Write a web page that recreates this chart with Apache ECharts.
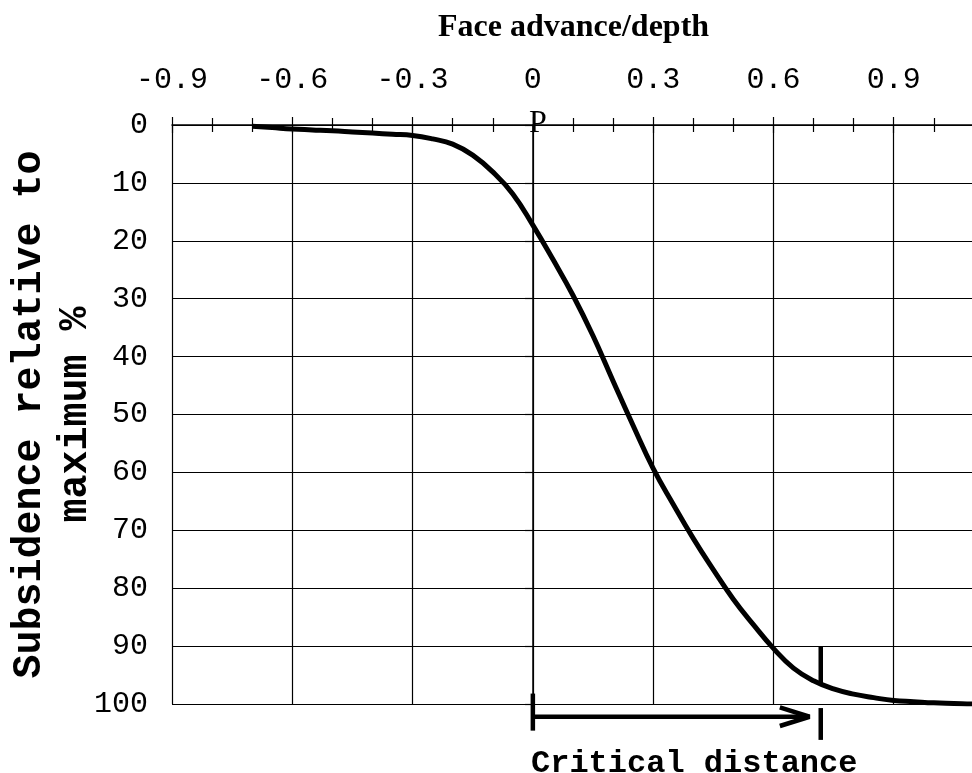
<!DOCTYPE html>
<html>
<head>
<meta charset="utf-8">
<script src="https://cdn.jsdelivr.net/npm/echarts@6/dist/echarts.min.js"></script>
<style>
html,body{margin:0;padding:0;background:#fff;}
#chart{width:972px;height:773px;}
</style>
</head>
<body>
<div id="chart"></div>
<script>
// Data
const faceAdvance = [-0.7,-0.65,-0.6,-0.55,-0.5,-0.45,-0.4,-0.35,-0.3,-0.25,-0.2,-0.15,-0.1,-0.05,0,0.05,0.1,0.15,0.2,0.25,0.3,0.35,0.4,0.45,0.5,0.55,0.6,0.65,0.7,0.75,0.8,0.85,0.9,0.95,1.0,1.05,1.1,1.15,1.2];
const subsidence  = [0.2,0.45,0.7,0.85,1.0,1.2,1.4,1.6,1.8,2.4,3.3,5.2,8.1,11.9,17.3,23.2,29.4,36.4,44.2,51.9,59.3,65.5,71.4,76.8,81.9,86.3,90.4,93.8,96.0,97.4,98.3,98.9,99.4,99.6,99.8,99.9,100,100,100];

// Critical distance annotation (data units)
const criticalDistance = 0.718;
const arrowShaft = [[0, 102.2], [0.69, 102.2]];
const arrowHead  = [[0.616, 100.6], [0.69, 102.2], [0.616, 103.8]];
const startTick  = [[0, 98.2], [0, 104.6]];
const endTickLow = [[criticalDistance, 100.7], [criticalDistance, 106.2]];
const endTickUp  = [[criticalDistance, 90], [criticalDistance, 96.4]];

const xAxisName = 'Face advance/depth';
const yAxisName = 'Subsidence relative to\nmaximum %';
const annotationText = 'Critical distance';
const pointLabel = 'P';

const chart = echarts.init(document.getElementById('chart'), null, {renderer: 'canvas'});
const mono = 'Liberation Mono';
const black = '#000';

function annLine(data, width) {
  return {
    type: 'line', data: data, symbol: 'none', clip: false, silent: true,
    lineStyle: {color: black, width: width}, z: 5, animation: false
  };
}

chart.setOption({
  backgroundColor: '#fff',
  animation: false,
  title: {
    text: xAxisName, left: 433, top: 7,
    textStyle: {fontFamily: 'Liberation Serif', fontWeight: 'bold', fontSize: 32, color: black}
  },
  grid: {left: 172, top: 125, bottom: 69, right: -42, containLabel: false, outerBoundsMode: 'none'},
  xAxis: [{
    type: 'value', position: 'top', min: -0.9, max: 1.2, interval: 0.3,
    axisLine: {show: true, lineStyle: {color: black, width: 1.5}},
    axisTick: {show: true, length: 8, lineStyle: {color: black, width: 1.2}},
    minorTick: {show: true, splitNumber: 3, length: 7, lineStyle: {color: black, width: 1.2}},
    axisLabel: {fontFamily: mono, fontSize: 30, color: black, margin: 30, showMaxLabel: true},
    splitLine: {show: true, lineStyle: {color: black, width: 1.2}}
  }, {
    type: 'value', position: 'top', min: -0.9, max: 1.2, interval: 0.3,
    axisLine: {show: false},
    axisTick: {show: true, inside: true, length: 8, lineStyle: {color: black, width: 1.2}},
    minorTick: {show: true, splitNumber: 3, length: 7, lineStyle: {color: black, width: 1.2}},
    axisLabel: {show: false},
    splitLine: {show: false}
  }],
  yAxis: {
    type: 'value', inverse: true, min: 0, max: 100, interval: 10,
    name: yAxisName, nameLocation: 'middle', nameRotate: 90, nameGap: 73, nameMoveOverlap: false,
    nameTextStyle: {fontFamily: mono, fontWeight: 'bold', fontSize: 40, lineHeight: 46, color: black},
    axisLine: {show: true, lineStyle: {color: black, width: 1.5}},
    axisTick: {show: true, length: 8, lineStyle: {color: black, width: 1.2}},
    axisLabel: {fontFamily: mono, fontSize: 30, color: black, margin: 24},
    splitLine: {show: true, lineStyle: {color: black, width: 1.2}}
  },
  series: [
    {
      type: 'line', data: faceAdvance.map((x, i) => [x, subsidence[i]]),
      symbol: 'none', smooth: 0.45,
      lineStyle: {color: black, width: 5}, z: 4
    },
    annLine(arrowShaft, 4.5),
    annLine(arrowHead, 4.5),
    annLine(startTick, 4.5),
    annLine(endTickLow, 4.5),
    annLine(endTickUp, 4.5)
  ],
  graphic: [
    {type: 'text', left: 529, top: 108, z: 10,
     style: {text: pointLabel, font: '32px "Liberation Serif"', fill: black}},
    {type: 'text', left: 531, top: 748, z: 10,
     style: {text: annotationText, font: 'bold 32px "Liberation Mono"', fill: black}}
  ]
});
</script>
</body>
</html>
